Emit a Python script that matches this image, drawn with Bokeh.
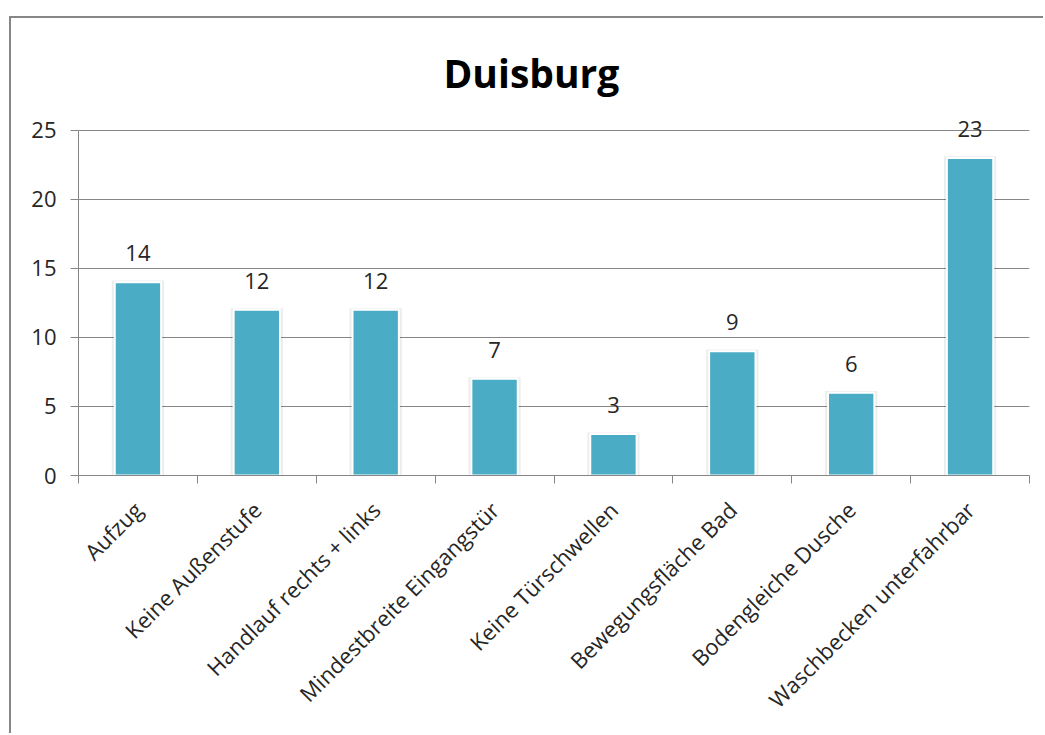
from bokeh.plotting import figure
from bokeh.models import Range1d, FixedTicker, ColumnDataSource, LabelSet
from bokeh.core.properties import value
from bokeh.embed import file_html
from bokeh.resources import INLINE

categories = ["Aufzug", "Keine Außenstufe", "Handlauf rechts + links", "Mindestbreite Eingangstür",
              "Keine Türschwellen", "Bewegungsfläche Bad", "Bodengleiche Dusche", "Waschbecken unterfahrbar"]
values = [14, 12, 12, 7, 3, 9, 6, 23]
y_ticks = [0, 5, 10, 15, 20, 25]

FONT = "Open Sans"
TXT = "#262626"
GRID = "#868686"

# canvas is shifted by the CSS margin + border
OX, OY = 11, 18
PX_PER_UNIT = (475 - 130) / 25.0
Y_TOP = 26.8

centers = [i + 0.5 for i in range(len(categories))]
src = ColumnDataSource(dict(x=centers, top=values, label=[str(v) for v in values],
                            shadow_top=[v + 0.12 for v in values]))

p = figure(width=1045 - OX, height=735 - OY, output_backend="svg", toolbar_location=None,
           x_range=Range1d(0, len(categories)), y_range=Range1d(0, Y_TOP),
           min_border_left=78 - OX, min_border_right=1045 - 1029,
           min_border_top=int(round(475 - Y_TOP * PX_PER_UNIT)) - OY,
           min_border_bottom=735 - 475)
p.styles = {"margin-left": "9px", "margin-top": "16px",
            "border-left": "2px solid #868686", "border-top": "2px solid #868686"}

p.title.text = "Duisburg"
p.title.text_font = FONT
p.title.text_font_size = "39px"
p.title.text_font_style = "bold"
p.title.text_color = "#000000"
p.title.align = "left"
p.title.offset = 365
p.title.standoff = 13

p.outline_line_color = None
p.background_fill_color = "white"
p.border_fill_color = "white"

# y axis
p.yaxis.ticker = FixedTicker(ticks=y_ticks)
p.yaxis.bounds = (0, 25)
p.yaxis.axis_line_color = GRID
p.yaxis.major_tick_line_color = GRID
p.yaxis.major_tick_out = 8
p.yaxis.major_tick_in = 0
p.yaxis.minor_tick_line_color = None
p.yaxis.major_label_text_font = FONT
p.yaxis.major_label_text_font_size = "22px"
p.yaxis.major_label_text_color = TXT
p.yaxis.major_label_standoff = 14

# x axis
p.xaxis.ticker = FixedTicker(ticks=centers, minor_ticks=list(range(len(categories) + 1)))
p.xaxis.major_label_overrides = {c: cat for c, cat in zip(centers, categories)}
p.xaxis.major_label_orientation = 0.785398
p.xaxis.axis_line_color = GRID
p.xaxis.major_tick_line_color = None
p.xaxis.minor_tick_line_color = GRID
p.xaxis.minor_tick_out = 8
p.xaxis.minor_tick_in = 0
p.xaxis.major_label_text_font = FONT
p.xaxis.major_label_text_font_size = "22px"
p.xaxis.major_label_text_color = TXT
p.xaxis.major_label_standoff = 22

p.xgrid.grid_line_color = None
p.ygrid.ticker = FixedTicker(ticks=y_ticks)
p.ygrid.grid_line_color = GRID
p.ygrid.grid_line_width = 1

# bar shadow
p.vbar(x="x", top="shadow_top", width=0.44, bottom=0, source=src,
       fill_color="#000000", fill_alpha=0.07, line_color=None)
# bars
p.vbar(x="x", top="top", width=0.39, bottom=0, source=src,
       fill_color="#4BACC6", line_color="white", line_width=2)

labels = LabelSet(x="x", y="top", text="label", source=src, text_align="center",
                  text_baseline="alphabetic", y_offset=21, text_font=value(FONT),
                  text_font_size=value("22px"), text_color=TXT)
p.add_layout(labels)

open("out.html", "w").write(file_html(p, INLINE))
